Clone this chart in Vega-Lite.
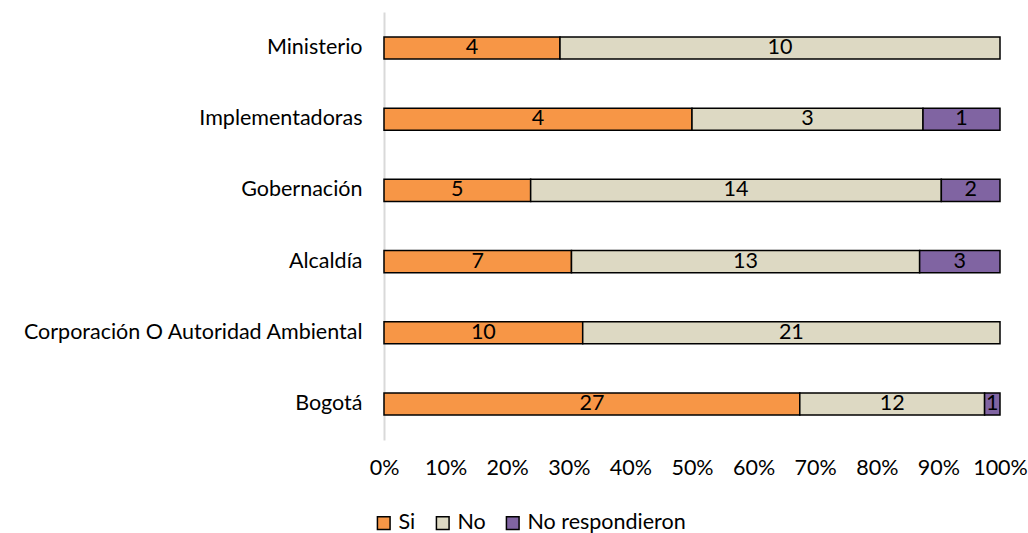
{
  "$schema": "https://vega.github.io/schema/vega-lite/v6.json",
  "width": 616,
  "height": 428,
  "autosize": {"type": "none"},
  "padding": {"left": 384, "top": 12, "right": 28, "bottom": 93},
  "background": "white",
  "config": {"view": {"stroke": null}, "font": "Lato"},
  "data": {
    "values": [
      {"cat": "Ministerio", "resp": "Si", "ord": 1, "value": 4},
      {"cat": "Ministerio", "resp": "No", "ord": 2, "value": 10},
      {"cat": "Implementadoras", "resp": "Si", "ord": 1, "value": 4},
      {"cat": "Implementadoras", "resp": "No", "ord": 2, "value": 3},
      {"cat": "Implementadoras", "resp": "No respondieron", "ord": 3, "value": 1},
      {"cat": "Gobernación", "resp": "Si", "ord": 1, "value": 5},
      {"cat": "Gobernación", "resp": "No", "ord": 2, "value": 14},
      {"cat": "Gobernación", "resp": "No respondieron", "ord": 3, "value": 2},
      {"cat": "Alcaldía", "resp": "Si", "ord": 1, "value": 7},
      {"cat": "Alcaldía", "resp": "No", "ord": 2, "value": 13},
      {"cat": "Alcaldía", "resp": "No respondieron", "ord": 3, "value": 3},
      {"cat": "Corporación O Autoridad Ambiental", "resp": "Si", "ord": 1, "value": 10},
      {"cat": "Corporación O Autoridad Ambiental", "resp": "No", "ord": 2, "value": 21},
      {"cat": "Bogotá", "resp": "Si", "ord": 1, "value": 27},
      {"cat": "Bogotá", "resp": "No", "ord": 2, "value": 12},
      {"cat": "Bogotá", "resp": "No respondieron", "ord": 3, "value": 1}
    ]
  },
  "transform": [
    {"stack": "value", "groupby": ["cat"], "sort": [{"field": "ord"}], "offset": "normalize", "as": ["x0", "x1"]},
    {"calculate": "(datum.x0 + datum.x1) / 2", "as": "xm"}
  ],
  "encoding": {
    "y": {
      "field": "cat",
      "type": "nominal",
      "sort": ["Ministerio", "Implementadoras", "Gobernación", "Alcaldía", "Corporación O Autoridad Ambiental", "Bogotá"],
      "scale": {"paddingInner": 0.69, "paddingOuter": 0.35},
      "axis": {
        "title": null,
        "ticks": false,
        "domain": true,
        "domainColor": "#d9d9d9",
        "domainWidth": 2,
        "labelFontSize": 21.5,
        "labelColor": "black",
        "labelPadding": 22,
        "labelLimit": 400
      }
    }
  },
  "layer": [
    {
      "mark": {"type": "bar", "stroke": "black", "strokeWidth": 1.5},
      "encoding": {
        "x": {
          "field": "x0",
          "type": "quantitative",
          "scale": {"domain": [0, 1]},
          "axis": {
            "title": null,
            "format": ".0%",
            "values": [0, 0.1, 0.2, 0.3, 0.4, 0.5, 0.6, 0.7, 0.8, 0.9, 1],
            "domain": false,
            "ticks": false,
            "grid": false,
            "labelFontSize": 21.5,
            "labelColor": "black",
            "labelPadding": 17,
            "labelFlush": false
          }
        },
        "x2": {"field": "x1"},
        "color": {
          "field": "resp",
          "type": "nominal",
          "scale": {"domain": ["Si", "No", "No respondieron"], "range": ["#F79646", "#DDD9C3", "#8064A2"]},
          "legend": {
            "title": null,
            "orient": "none",
            "legendX": -11,
            "legendY": 500,
            "direction": "horizontal",
            "symbolType": "square",
            "symbolSize": 160,
            "symbolStrokeColor": "black",
            "symbolStrokeWidth": 1.5,
            "symbolOffset": 0,
            "labelOffset": 4,
            "labelFontSize": 21.5,
            "labelColor": "black",
            "columnPadding": 16
          }
        }
      }
    },
    {
      "mark": {"type": "text", "fontSize": 21.5, "color": "black"},
      "encoding": {
        "x": {"field": "xm", "type": "quantitative"},
        "text": {"field": "value", "type": "quantitative"}
      }
    }
  ]
}
